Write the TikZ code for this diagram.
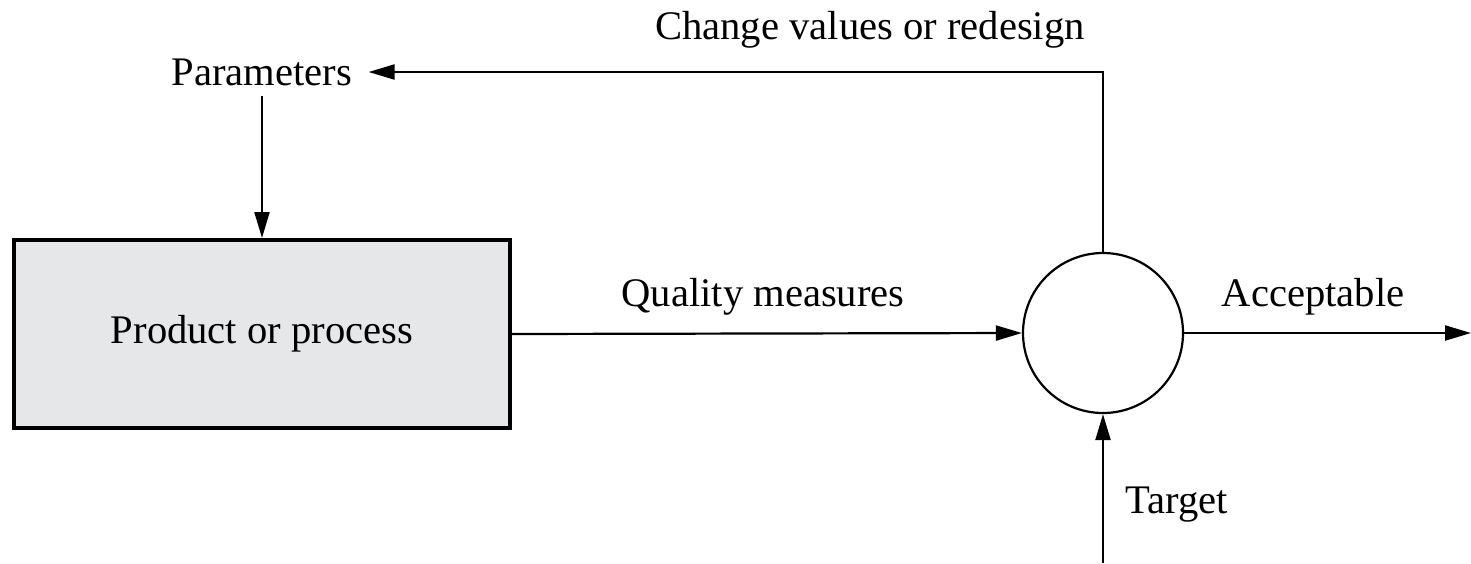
\documentclass[tikz,border=0pt]{standalone}
\usepackage{fontspec}
\setmainfont{Liberation Serif}
\definecolor{boxgray}{RGB}{230, 231, 232}
\usetikzlibrary{arrows.meta, positioning, calc}

\begin{document}
\begin{tikzpicture}[
  x=0.5pt, y=-0.5pt,
  font=\fontsize{20.3}{24}\selectfont,
  procbox/.style={draw, line width=2pt, fill=boxgray, minimum width=248pt, minimum height=94pt, inner sep=0pt},
  compare/.style={draw, circle, line width=1.1pt, minimum size=80pt, inner sep=0pt},
  flow/.style={line width=1.1pt, -{Triangle[length=13pt, width=7.5pt]}},
  lbl/.style={inner sep=0pt}
]
  \useasboundingbox (0,0) rectangle (1471,563);
  \node[procbox] (proc) at (262, 334) {\raisebox{-3pt}{Product or process}};
  \node[compare] (cmp) at (1103, 333) {};
  \node[lbl] (param) at (262, 72) {Parameters};
  \node[lbl] (change) at (870, 30) {Change values or redesign};
  \node[lbl] (quality) at (763, 297) {Quality measures};
  \node[lbl] (accept) at (1313, 297) {Acceptable};
  \node[lbl] (target) at (1177, 505) {Target};
  \coordinate (corner) at (1103, 72);
  \coordinate (out) at (1471, 333);
  \coordinate (tin) at (1103, 563);

  \draw[flow] ($(param.south)+(0,10)$) -- (proc.north);
  \draw[flow] (proc.east) -- (cmp.west);
  \draw[flow] (cmp.east) -- (out);
  \draw[flow] (tin) -- (cmp.south);
  \draw[flow] (cmp.north) -- (corner) -- ($(param.east)+(16,0)$);
\end{tikzpicture}
\end{document}
